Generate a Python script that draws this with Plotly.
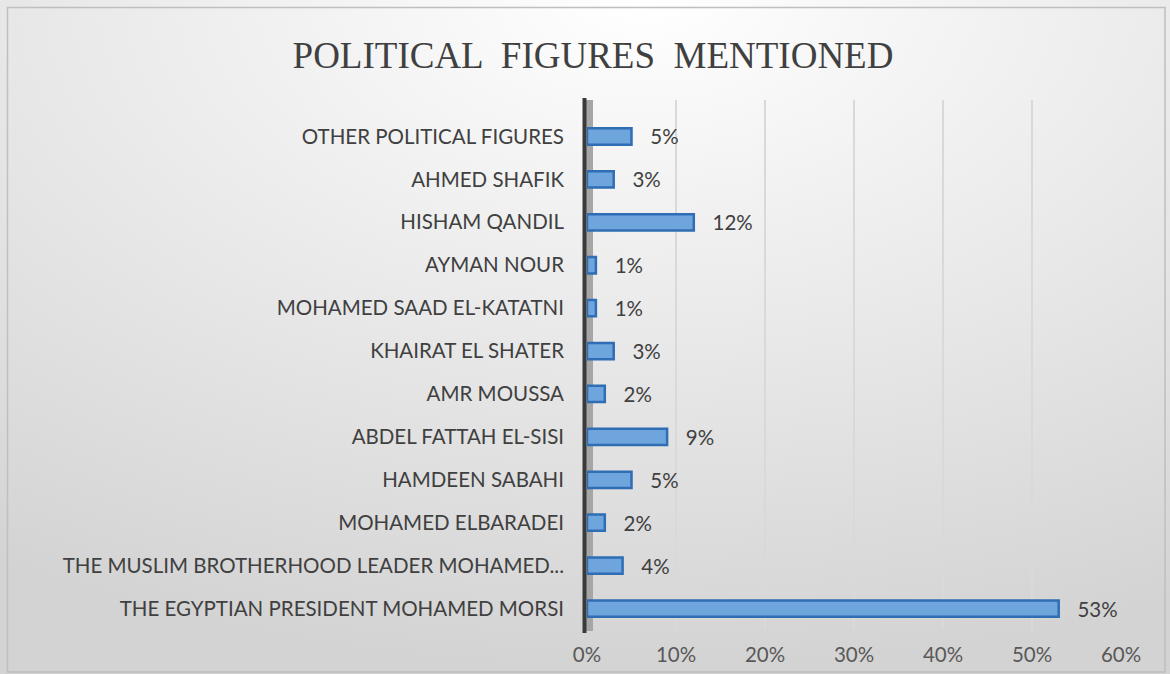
import base64
import plotly.graph_objects as go

categories = [
    "THE EGYPTIAN PRESIDENT MOHAMED MORSI",
    "THE MUSLIM BROTHERHOOD LEADER MOHAMED...",
    "MOHAMED ELBARADEI",
    "HAMDEEN SABAHI",
    "ABDEL FATTAH EL-SISI",
    "AMR MOUSSA",
    "KHAIRAT EL SHATER",
    "MOHAMED SAAD EL-KATATNI",
    "AYMAN NOUR",
    "HISHAM QANDIL",
    "AHMED SHAFIK",
    "OTHER POLITICAL FIGURES",
]
values = [53, 4, 2, 5, 9, 2, 3, 1, 1, 12, 3, 5]
x_ticks = [0, 10, 20, 30, 40, 50, 60]
x_tick_labels = ["0%", "10%", "20%", "30%", "40%", "50%", "60%"]

W, H = 1170, 674
ML, MR, MT, MB = 587, 49, 100, 44
PW, PH = W - ML - MR, H - MT - MB

svg = (
    '<svg xmlns="http://www.w3.org/2000/svg" width="1170" height="674" preserveAspectRatio="none">'
    '<defs><radialGradient id="g" cx="0.55" cy="0" r="1.0" fx="0.55" fy="0">'
    '<stop offset="0" stop-color="#ffffff"/>'
    '<stop offset="1" stop-color="#d3d3d3"/>'
    '</radialGradient></defs>'
    '<rect width="1170" height="674" fill="url(#g)"/></svg>'
)
bg_uri = "data:image/svg+xml;base64," + base64.b64encode(svg.encode()).decode()

def px_x(p):
    return (p - ML) / PW

def px_y(p):
    return (H - MB - p) / PH

fig = go.Figure()

fig.add_trace(go.Bar(
    y=categories,
    x=values,
    orientation="h",
    width=0.38,
    marker=dict(color="#6ea5dc", line=dict(color="#2f6db4", width=2.5)),
    text=["   " + str(v) + "%" for v in values],
    textposition="outside",
    constraintext="none",
    textfont=dict(family="Lato, Open Sans, sans-serif", size=20.5, color="#404040"),
    cliponaxis=False,
    hoverinfo="skip",
))

fig.update_layout(
    width=W,
    height=H,
    margin=dict(l=ML, r=MR, t=MT, b=MB, autoexpand=False),
    paper_bgcolor="#ffffff",
    plot_bgcolor="rgba(0,0,0,0)",
    showlegend=False,
    title=dict(
        text="POLITICAL  FIGURES  MENTIONED",
        x=593 / W, xanchor="center",
        y=1 - 55 / H, yanchor="middle",
        font=dict(family="Liberation Serif, Times New Roman, serif", size=37, color="#404040"),
    ),
    images=[dict(source=bg_uri, xref="paper", yref="paper", x=px_x(0), y=px_y(0),
                 sizex=W / PW, sizey=H / PH, xanchor="left", yanchor="top",
                 sizing="stretch", layer="below")],
    xaxis=dict(
        range=[0, 60],
        tickvals=x_ticks,
        ticktext=x_tick_labels,
        showgrid=True,
        gridcolor="#d9d9d9",
        gridwidth=1.5,
        zeroline=False,
        showline=False,
        ticks="",
        automargin=False,
        ticklabelstandoff=10,
        tickfont=dict(family="Lato, Open Sans, sans-serif", size=20.5, color="#595959"),
        fixedrange=True,
    ),
    yaxis=dict(
        categoryorder="array",
        categoryarray=categories,
        range=[-0.5, 11.85],
        showgrid=False,
        zeroline=False,
        showline=False,
        ticks="",
        automargin=False,
        ticklabelstandoff=22,
        tickfont=dict(family="Lato, Open Sans, sans-serif", size=20.5, color="#404040"),
        fixedrange=True,
    ),
    bargap=0.62,
)

# 3D wall of the vertical axis
fig.add_shape(type="rect", xref="paper", yref="paper",
              x0=px_x(586), x1=px_x(593), y0=px_y(631), y1=px_y(100),
              fillcolor="#a6a6a6", line=dict(width=0), layer="below")
fig.add_shape(type="rect", xref="paper", yref="paper",
              x0=px_x(582.5), x1=px_x(586.5), y0=px_y(633), y1=px_y(98),
              fillcolor="#3a3a3a", line=dict(width=0), layer="above")

# chart border
fig.add_shape(type="rect", xref="paper", yref="paper",
              x0=px_x(7.5), x1=px_x(1165), y0=px_y(672), y1=px_y(7.5),
              line=dict(color="#bfbfbf", width=1.5),
              fillcolor="rgba(0,0,0,0)", layer="above")

fig.write_html("out.html", config={"displayModeBar": False},
               post_script="document.body.style.margin='0';document.body.style.padding='0';")
